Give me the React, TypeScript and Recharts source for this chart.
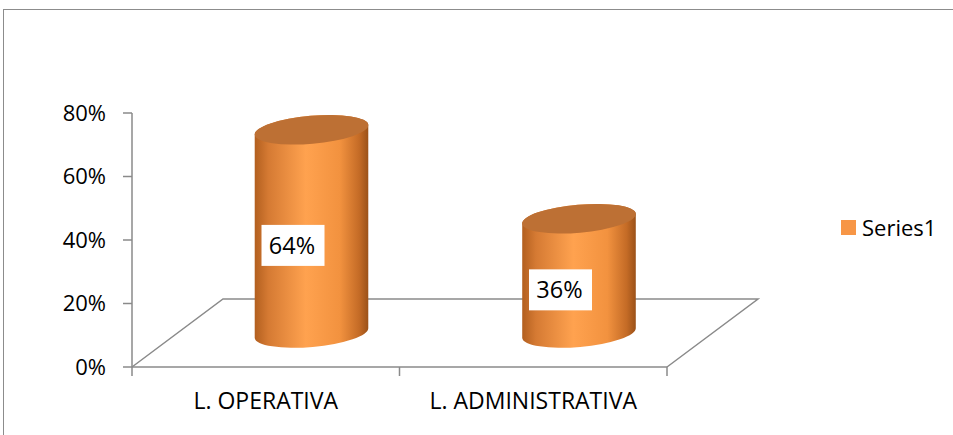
import { Bar, BarChart, LabelList, ReferenceArea, XAxis, YAxis } from "recharts";

const categories = ["L. OPERATIVA", "L. ADMINISTRATIVA"];
const series1 = [0.64, 0.36];
const yTicks = [0, 0.2, 0.4, 0.6, 0.8];
const seriesName = "Series1";

const data = categories.map((name, i) => ({ name, value: series1[i] }));

// 3d look: floor depth and the half-depth where cylinders stand
const DEPTH_X = 91;
const DEPTH_Y = 68;
const ELLIPSE_RY = 14;
const TILT = -5;
const GRID = "#8a8a8a";
const FONT = "'Open Sans', sans-serif";

const pct = (v: number) => `${Math.round(v * 100)}%`;

function Floor(props: any) {
  const { x, y, width, height } = props;
  const bottom = y + height;
  const right = x + width;
  return (
    <g fill="none" stroke={GRID} strokeWidth={1.5}>
      <polyline
        points={`${x},${bottom} ${x + DEPTH_X},${bottom - DEPTH_Y} ${right + DEPTH_X},${bottom - DEPTH_Y} ${right},${bottom}`}
      />
      {[0, 0.5, 1].map((f) => (
        <line key={f} x1={x + width * f} x2={x + width * f} y1={bottom} y2={bottom + 9} />
      ))}
    </g>
  );
}

function Cylinder(props: any) {
  const { x, y, width, height } = props;
  if (!height) return null;
  const rx = width / 2;
  const cx = x + rx + DEPTH_X / 2;
  const topY = y - DEPTH_Y / 2;
  const botY = y + height - DEPTH_Y / 2;
  const t = (TILT * Math.PI) / 180;
  const dx = rx * Math.cos(t);
  const dy = rx * Math.sin(t);
  const body =
    `M ${cx - dx} ${topY - dy} L ${cx - dx} ${botY - dy} ` +
    `A ${rx} ${ELLIPSE_RY} ${TILT} 0 0 ${cx + dx} ${botY + dy} ` +
    `L ${cx + dx} ${topY + dy} ` +
    `A ${rx} ${ELLIPSE_RY} ${TILT} 0 0 ${cx - dx} ${topY - dy} Z`;
  return (
    <g>
      <path d={body} fill="url(#cylSide)" />
      <ellipse
        cx={cx}
        cy={topY}
        rx={rx}
        ry={ELLIPSE_RY}
        fill="#bd7034"
        transform={`rotate(${TILT} ${cx} ${topY})`}
      />
    </g>
  );
}

function ValueLabel(props: any) {
  const { x, y, width, height, value } = props;
  const cx = x + width / 2 + 27;
  const cy = y + height / 2 - 20;
  return (
    <g>
      <rect x={cx - 31.5} y={cy - 20.5} width={63} height={41} fill="#fff" />
      <text
        x={cx - 1}
        y={cy}
        dy="0.36em"
        textAnchor="middle"
        fontSize={23.5}
        fontFamily={FONT}
        fill="#000"
      >
        {pct(value)}
      </text>
    </g>
  );
}

export default function App() {
  return (
    <div style={{ position: "absolute", left: 0, top: 0, width: 953, height: 435, overflow: "hidden", background: "#fff" }}>
      <div
        style={{
          position: "absolute",
          left: 3,
          top: 9,
          width: 1000,
          height: 500,
          border: "1.5px solid #8c8c8c",
        }}
      />
      <BarChart
        width={953}
        height={435}
        data={data}
        margin={{ top: 113, right: 286, bottom: 28, left: 72 }}
        style={{ position: "absolute", left: 0, top: 0, fontFamily: FONT }}
      >
        <defs>
          <linearGradient id="cylSide" x1="0" x2="1" y1="0" y2="0">
            <stop offset="0" stopColor="#b25f1f" />
            <stop offset="0.12" stopColor="#d57a33" />
            <stop offset="0.45" stopColor="#ffa24f" />
            <stop offset="0.75" stopColor="#f2923f" />
            <stop offset="0.92" stopColor="#c46b26" />
            <stop offset="1" stopColor="#9b5118" />
          </linearGradient>
        </defs>
        <ReferenceArea y1={0} y2={0.8} shape={<Floor />} />
        <XAxis
          dataKey="name"
          axisLine={{ stroke: GRID, strokeWidth: 1.5 }}
          tickLine={false}
          tickSize={9}
          tickMargin={17}
          height={40}
          interval={0}
          tick={{ fill: "#000", fontSize: 23 }}
        />
        <YAxis
          domain={[0, 0.8]}
          ticks={yTicks}
          tickFormatter={pct}
          width={60}
          axisLine={{ stroke: GRID, strokeWidth: 1.5 }}
          tickLine={{ stroke: GRID, strokeWidth: 1.5 }}
          tickSize={9}
          tickMargin={17}
          tick={{ fill: "#000", fontSize: 22 }}
        />
        <Bar dataKey="value" name={seriesName} barSize={114} shape={<Cylinder />} isAnimationActive={false}>
          <LabelList dataKey="value" content={<ValueLabel />} />
        </Bar>
      </BarChart>
      <div
        style={{
          position: "absolute",
          left: 841,
          top: 212,
          display: "flex",
          alignItems: "center",
          fontFamily: FONT,
          fontSize: 22,
          color: "#000",
        }}
      >
        <span style={{ width: 15, height: 15, background: "#f79646", marginRight: 6, display: "inline-block" }} />
        {seriesName}
      </div>
    </div>
  );
}
